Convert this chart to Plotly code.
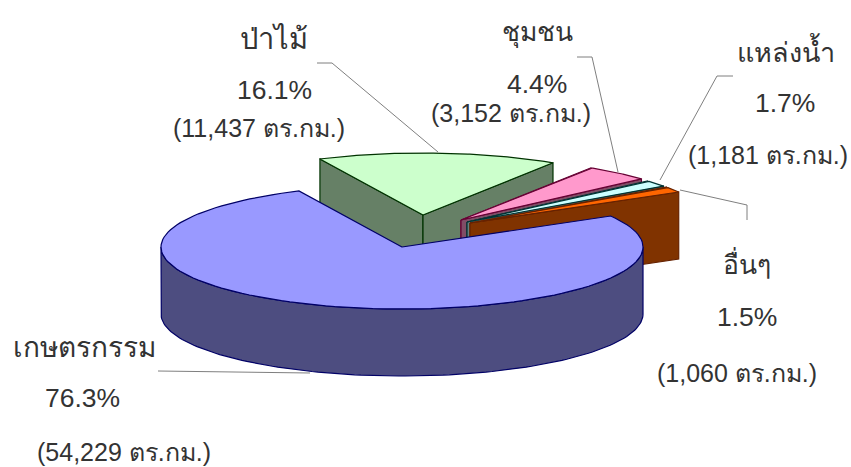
import numpy as np
import plotly.graph_objects as go

categories = ["เกษตรกรรม", "ป่าไม้", "ชุมชน", "แหล่งน้ำ", "อื่นๆ"]
shares = [76.3, 16.1, 4.4, 1.7, 1.5]
areas = ["54,229", "11,437", "3,152", "1,181", "1,060"]

top_colors = ["#9999FF", "#CCFFCC", "#FF99CC", "#CCFFFF", "#FF6600"]
side_colors = ["#4D4D80", "#668066", "#804D66", "#668080", "#803300"]
edge_colors = ["#000066", "#003300", "#660033", "#003333", "#662200"]
apex_x = [402, 423, 461, 467, 470]
apex_y = [247, 215, 220, 222, 223]

START_ANGLE = 60.0
RX, RY, DEPTH = 241.0, 62.0, 67.0
FONT = "Liberation Sans, Arial, sans-serif"

name_x = [84, 274, 537, 786, 747]
name_y = [347, 38, 32, 50, 263]
name_size = [28, 29, 26.5, 27, 26.5]
share_x = [82, 274, 537, 785, 747]
share_y = [398, 90, 84, 103, 317]
detail_x = [124, 259, 511, 768, 737]
detail_y = [452, 128, 113, 155, 373]
leader_x = [[158, 310], [317, 332, 438], [577, 592, 618], [733, 717, 660], [680, 747, 747]]
leader_y = [[371, 373], [63, 63, 152], [57, 57, 172], [76, 76, 180], [190, 205, 220]]

fig = go.Figure()


def poly(xs, ys, fill, edge):
    fig.add_trace(go.Scatter(
        x=list(xs) + [xs[0]], y=list(ys) + [ys[0]], mode="lines", fill="toself",
        fillcolor=fill, line=dict(color=edge, width=1.2), hoverinfo="skip"))


def rim(ax, ay, a0, a1):
    t = np.radians(np.linspace(a0, a1, 120))
    return ax + RX * np.sin(t), ay - RY * np.cos(t)


sweeps = np.array(shares) / sum(shares) * 360
starts = START_ANGLE + np.concatenate([[0], np.cumsum(sweeps)[:-1]])

# Leaders lie under the pie, as in the reference.
for xs, ys in zip(leader_x, leader_y):
    fig.add_trace(go.Scatter(x=xs, y=ys, mode="lines", line=dict(color="#7f7f7f", width=1), hoverinfo="skip"))

for i in [1, 2, 3, 4, 0]:
    a0, a1 = starts[i], starts[i] + sweeps[i]
    ax, ay = apex_x[i], apex_y[i]
    rx, ry = rim(ax, ay, a0, a1)
    if i == 0:
        fx, fy = rim(ax, ay, 90, 270)
        poly(np.r_[fx, fx[::-1]], np.r_[fy, fy[::-1] + DEPTH], side_colors[i], edge_colors[i])
    else:
        for k in (0, -1):
            poly([ax, rx[k], rx[k], ax], [ay, ry[k], ry[k] + DEPTH, ay + DEPTH], side_colors[i], edge_colors[i])
    poly(np.r_[ax, rx], np.r_[ay, ry], top_colors[i], edge_colors[i])


def label(x, y, text, size):
    fig.add_annotation(x=x, y=y, text=text, showarrow=False, xanchor="center", yanchor="middle",
                       font=dict(family=FONT, size=size, color="#333333"))


for i, name in enumerate(categories):
    label(name_x[i], name_y[i], name, name_size[i])
    label(share_x[i], share_y[i], f"{shares[i]}%", 26.5)
    label(detail_x[i], detail_y[i], f"({areas[i]} ตร.กม.)", 25)

fig.update_layout(
    width=851, height=467, margin=dict(l=0, r=0, t=0, b=0), showlegend=False,
    paper_bgcolor="white", plot_bgcolor="white",
    xaxis=dict(range=[0, 851], visible=False, fixedrange=True),
    yaxis=dict(range=[467, 0], visible=False, fixedrange=True),
)
fig.write_html("out.html", config={"displayModeBar": False},
               post_script="document.body.style.margin='0';document.body.style.overflow='hidden';")
